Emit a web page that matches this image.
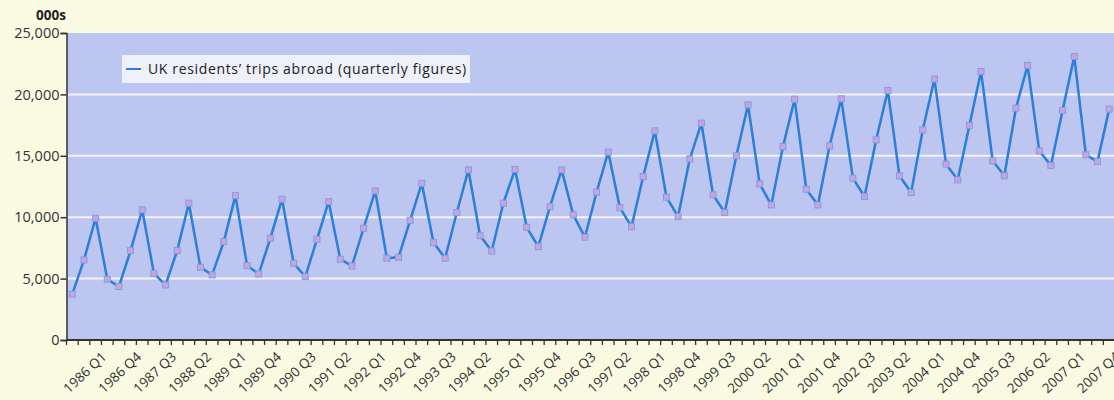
<!DOCTYPE html>
<html>
<head>
<meta charset="utf-8">
<script src="https://cdn.jsdelivr.net/npm/d3@7"></script>
<style>
  html, body { margin: 0; padding: 0; background: #fafae2; }
  svg { display: block; font-family: "Open Sans", Lato, sans-serif; }
</style>
</head>
<body>
<div id="chart"></div>
<script>
// quarterly UK residents' trips abroad, thousands (1986 Q1 - 2008 Q2)
const years = d3.range(1986, 2009);
const quarterNames = ["Q1", "Q2", "Q3", "Q4"];
const categories = years
  .flatMap((y) => quarterNames.map((q) => `${y} ${q}`))
  .slice(0, 90);

const trips = [
  3730, 6520, 9920, 4950,
  4350, 7280, 10600, 5430,
  4480, 7280, 11140, 5920,
  5300, 8010, 11760, 6060,
  5380, 8290, 11470, 6250,
  5160, 8200, 11270, 6580,
  6030, 9100, 12140, 6660,
  6740, 9750, 12770, 7930,
  6660, 10380, 13850, 8500,
  7250, 11140, 13900, 9180,
  7600, 10860, 13850, 10190,
  8370, 12040, 15300, 10780,
  9230, 13310, 17030, 11630,
  10050, 14750, 17660, 11820,
  10380, 15000, 19150, 12710,
  11000, 15750, 19610, 12280,
  11000, 15810, 19640, 13180,
  11680, 16300, 20320, 13370,
  12010, 17110, 21250, 14320,
  13040, 17470, 21870, 14590,
  13370, 18880, 22360, 15400,
  14210, 18690, 23090, 15080,
  14530, 18800,
];

const tickLabels = [
  "1986 Q1", "1986 Q4", "1987 Q3", "1988 Q2", "1989 Q1", "1989 Q4",
  "1990 Q3", "1991 Q2", "1992 Q1", "1992 Q4", "1993 Q3", "1994 Q2",
  "1995 Q1", "1995 Q4", "1996 Q3", "1997 Q2", "1998 Q1", "1998 Q4",
  "1999 Q3", "2000 Q2", "2001 Q1", "2001 Q4", "2002 Q3", "2003 Q2",
  "2004 Q1", "2004 Q4", "2005 Q3", "2006 Q2", "2007 Q1", "2007 Q4",
];

const yTicks = [0, 5000, 10000, 15000, 20000, 25000];
const seriesName = "UK residents\u2019 trips abroad (quarterly figures)";

const width = 1114;
const height = 400;
const margin = { top: 33, left: 66.5, bottom: 60 };
const step = 11.65;

const x = d3
  .scaleBand()
  .domain(categories)
  .range([margin.left, margin.left + categories.length * step]);

const y = d3
  .scaleLinear()
  .domain([0, 25000])
  .range([height - margin.bottom, margin.top]);

const cx = (c) => x(c) + x.bandwidth() / 2;

const svg = d3
  .select("#chart")
  .append("svg")
  .attr("width", width)
  .attr("height", height);

// plot background
svg
  .append("rect")
  .attr("x", x.range()[0])
  .attr("y", y(25000))
  .attr("width", x.range()[1] - x.range()[0])
  .attr("height", y(0) - y(25000))
  .style("fill", "#bdc6f0");

// gridlines
svg
  .append("g")
  .selectAll("line")
  .data(yTicks.filter((t) => t > 0 && t < 25000))
  .join("line")
  .attr("x1", x.range()[0])
  .attr("x2", x.range()[1])
  .attr("y1", (d) => y(d))
  .attr("y2", (d) => y(d))
  .style("stroke", "#f6f2f6")
  .style("stroke-width", 2);

// y axis
const yAxis = svg
  .append("g")
  .attr("transform", `translate(${margin.left},0)`)
  .call(
    d3
      .axisLeft(y)
      .tickValues(yTicks)
      .tickSize(6)
      .tickPadding(1)
      .tickFormat(d3.format(",")),
  );
yAxis.select(".domain").style("stroke", "#333").style("stroke-width", 1.5);
yAxis.selectAll(".tick line").style("stroke", "#333").style("stroke-width", 1.5);
yAxis
  .selectAll(".tick text")
  .style("font-size", "14.5px")
  .style("fill", "#333")
  .style("font-family", "'Open Sans', sans-serif");

// x axis line and quarter ticks
const xAxisY = y(0);
svg
  .append("line")
  .attr("x1", x.range()[0])
  .attr("x2", x.range()[1])
  .attr("y1", xAxisY)
  .attr("y2", xAxisY)
  .style("stroke", "#333")
  .style("stroke-width", 2);

svg
  .append("g")
  .selectAll("line")
  .data(categories)
  .join("line")
  .attr("x1", (d) => x(d))
  .attr("x2", (d) => x(d))
  .attr("y1", xAxisY)
  .attr("y2", xAxisY + 5)
  .style("stroke", "#333")
  .style("stroke-width", 1.3);

svg
  .append("g")
  .selectAll("text")
  .data(tickLabels)
  .join("text")
  .attr("transform", (d) => `translate(${cx(d) + 35},${xAxisY + 18}) rotate(-43)`)
  .attr("text-anchor", "end")
  .style("font-size", "13.5px")
  .style("fill", "#333")
  .text((d) => d);

// series line
const line = d3
  .line()
  .x((d, i) => cx(categories[i]))
  .y((d) => y(d));

svg
  .append("path")
  .datum(trips)
  .attr("d", line)
  .style("fill", "none")
  .style("stroke", "#2b7fd8")
  .style("stroke-width", 2.5)
  .style("stroke-linejoin", "round");

svg
  .append("g")
  .selectAll("rect")
  .data(trips)
  .join("rect")
  .attr("x", (d, i) => cx(categories[i]) - 3)
  .attr("y", (d) => y(d) - 3)
  .attr("width", 6)
  .attr("height", 6)
  .style("fill", "#c9a4dc")
  .style("stroke", "#7f9fe2")
  .style("stroke-width", 1);

// legend
const legend = svg.append("g").attr("transform", "translate(122,55)");
legend
  .append("rect")
  .attr("width", 348)
  .attr("height", 28)
  .style("fill", "#eef0fa");
legend
  .append("line")
  .attr("x1", 4)
  .attr("x2", 19)
  .attr("y1", 14)
  .attr("y2", 14)
  .style("stroke", "#2b7fd8")
  .style("stroke-width", 2);
legend
  .append("text")
  .attr("x", 26)
  .attr("y", 19)
  .style("font-size", "14px")
  .style("letter-spacing", "0.65px")
  .style("fill", "#222")
  .text(seriesName);

// unit label
svg
  .append("text")
  .attr("x", 36)
  .attr("y", 20)
  .style("font-size", "13.5px")
  .style("font-weight", "bold")
  .style("fill", "#222")
  .text("000s");
</script>
</body>
</html>
